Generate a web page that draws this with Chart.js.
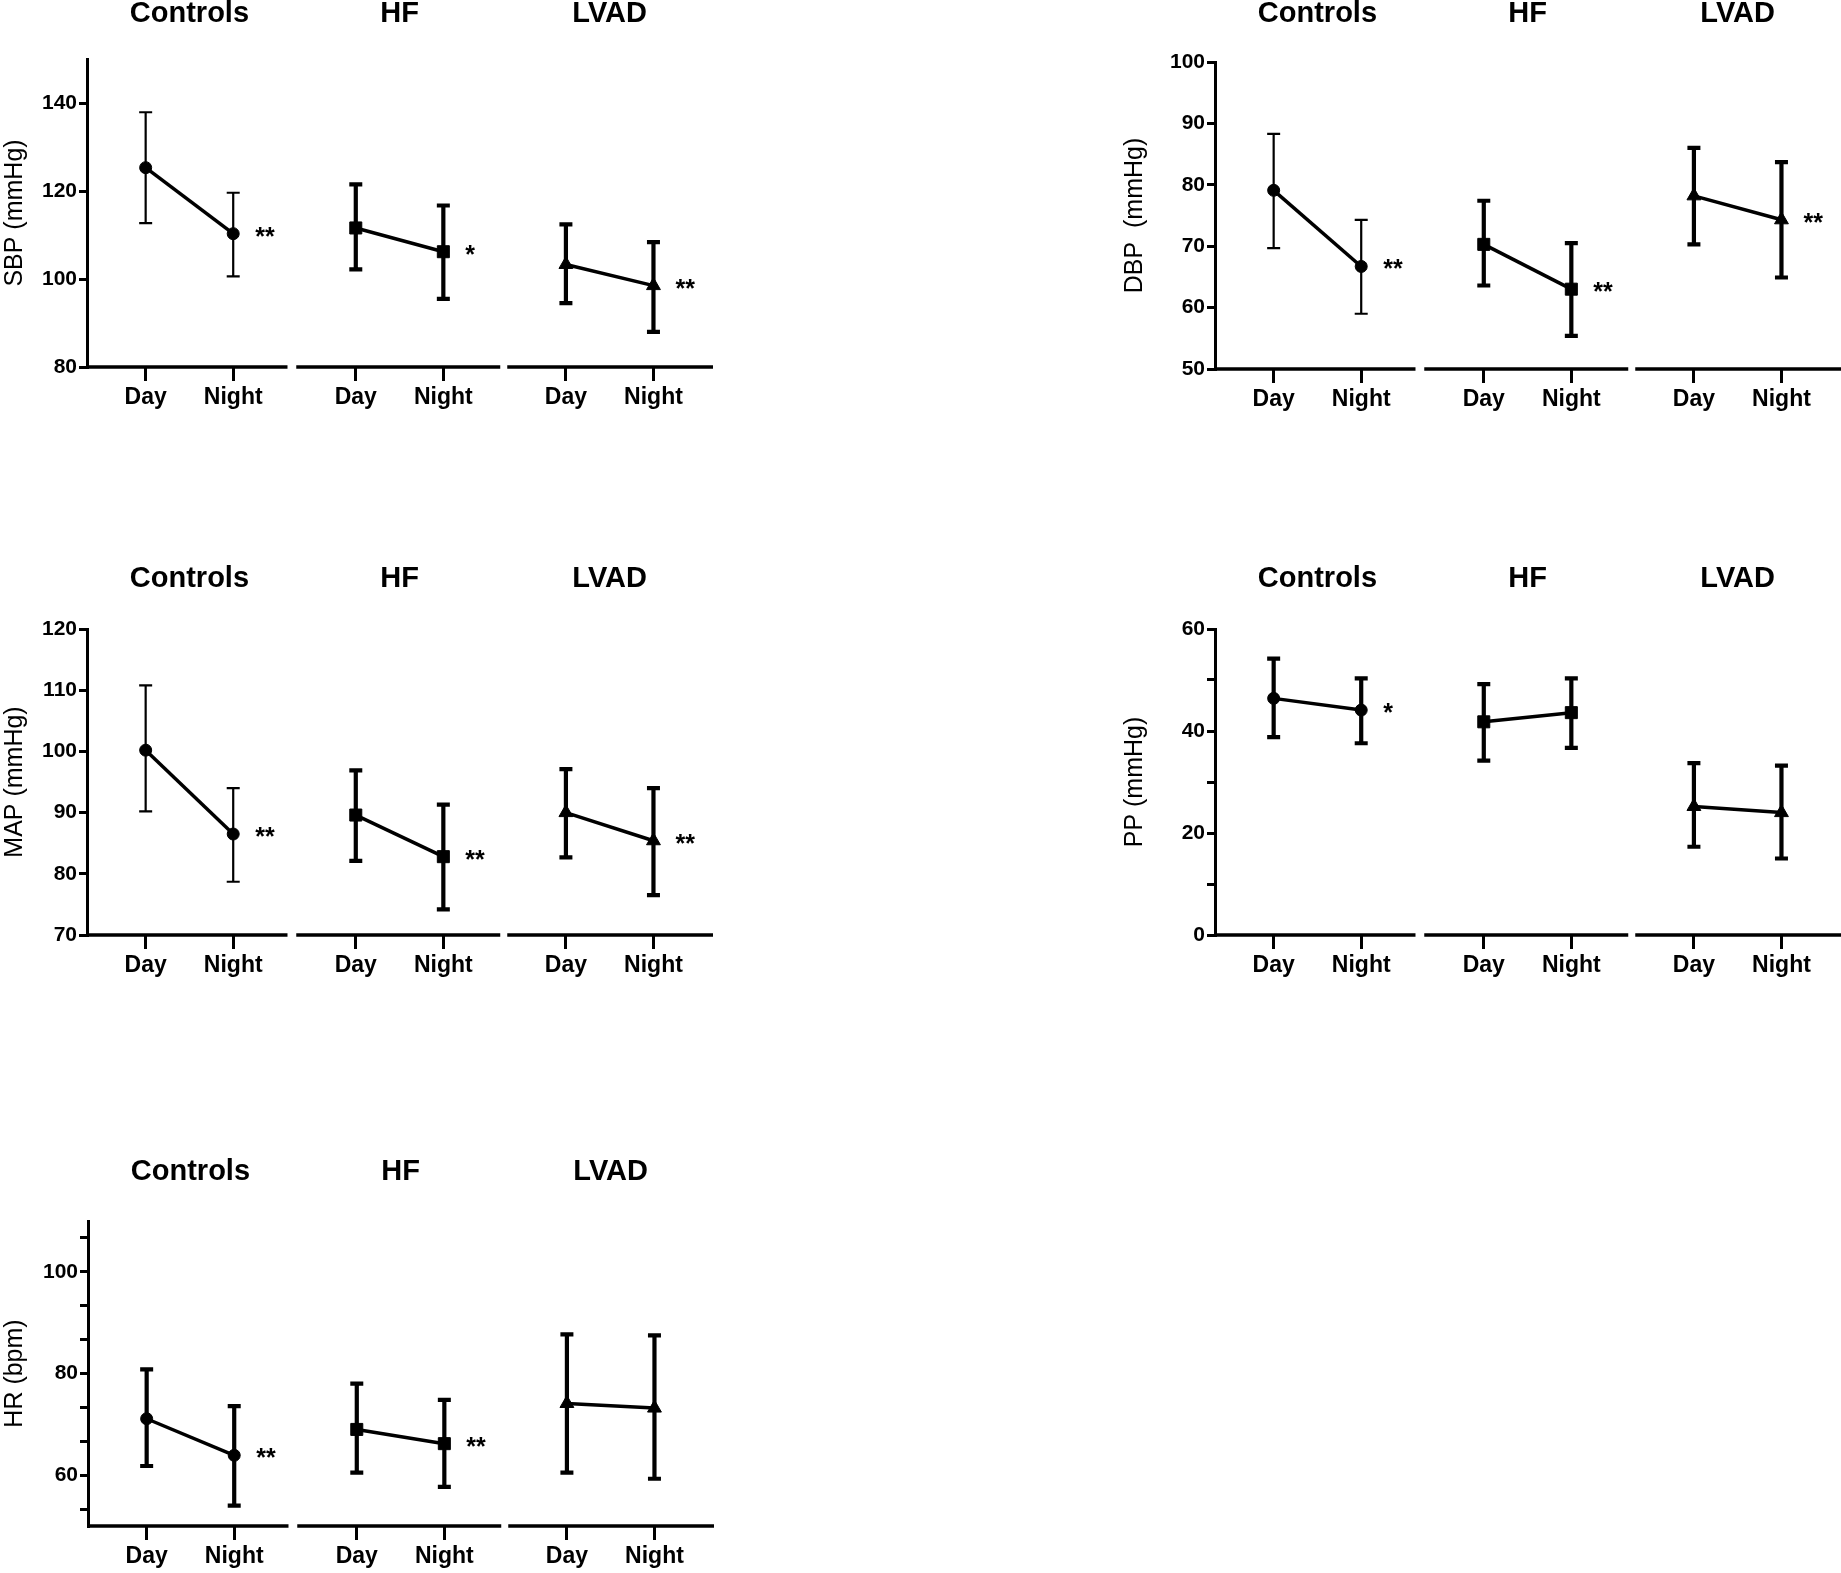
<!DOCTYPE html>
<html lang="en">
<head>
<meta charset="UTF-8">
<title>Day / Night haemodynamics</title>
<style>
    body {
        margin: 0;
        background: #ffffff;
        width: 1841px;
        height: 1573px;
        position: relative;
        overflow: hidden;
    }
    canvas {
        position: absolute;
    }
</style>
<script src="https://cdn.jsdelivr.net/npm/chart.js"></script>
</head>
<body>
<canvas id="sbp"></canvas>
<canvas id="dbp"></canvas>
<canvas id="map"></canvas>
<canvas id="pp"></canvas>
<canvas id="hr"></canvas>

<script>
// groups and periods (order of every series below: Controls Day, Controls Night, HF Day, HF Night, LVAD Day, LVAD Night)
const groups = ['Controls', 'HF', 'LVAD'];
const periods = ['Day', 'Night'];

// systolic BP
const sbpMean = [125.3, 110.3, 111.6, 106.2, 103.3, 98.5];
const sbpLow  = [112.7, 100.6, 102.2, 95.5, 94.5, 88.0];
const sbpHigh = [137.9, 119.6, 121.5, 116.7, 112.4, 108.4];
const sbpStars = ['**', '*', '**'];
const sbpTicks = [80, 100, 120, 140];
const sbpLabels = [80, 100, 120, 140];

// diastolic BP
const dbpMean = [79.1, 66.7, 70.3, 63.0, 78.2, 74.3];
const dbpLow  = [69.7, 59.0, 63.6, 55.4, 70.3, 64.9];
const dbpHigh = [88.3, 74.3, 77.4, 70.5, 86.0, 83.7];
const dbpStars = ['**', '**', '**'];
const dbpTicks = [50, 60, 70, 80, 90, 100];
const dbpLabels = [50, 60, 70, 80, 90, 100];

// mean arterial pressure
const mapMean = [100.2, 86.5, 89.6, 82.8, 90.0, 85.4];
const mapLow  = [90.2, 78.7, 82.1, 74.2, 82.7, 76.5];
const mapHigh = [110.8, 94.0, 96.9, 91.3, 97.1, 94.0];
const mapStars = ['**', '**', '**'];
const mapTicks = [70, 80, 90, 100, 110, 120];
const mapLabels = [70, 80, 90, 100, 110, 120];

// pulse pressure
const ppMean = [46.4, 44.1, 41.8, 43.6, 25.2, 24.0];
const ppLow  = [38.8, 37.6, 34.2, 36.7, 17.3, 15.0];
const ppHigh = [54.2, 50.3, 49.2, 50.3, 33.7, 33.2];
const ppStars = ['*', '', ''];
const ppTicks = [0, 10, 20, 30, 40, 50, 60];
const ppLabels = [0, 20, 40, 60];

// heart rate
const hrMean = [71.1, 63.9, 69.0, 66.2, 74.1, 73.2];
const hrLow  = [61.8, 54.0, 60.5, 57.7, 60.5, 59.3];
const hrHigh = [80.8, 73.6, 78.0, 74.8, 87.7, 87.5];
const hrStars = ['**', '**', ''];
const hrTicks = [53.33, 60, 66.67, 73.33, 80, 86.67, 93.33, 100, 106.67];
const hrLabels = [60, 80, 100];

// x layout: Day/Night one unit apart, groups 2.4 units apart
const GROUP_STEP = 2.4;
const X_MIN = 0.33, X_MAX = 7.48;
const segments = [[0.33, 2.62], [2.72, 5.05], [5.13, 7.48]];
function xOf(g, p) { return 1 + g * GROUP_STEP + p; }
const xTicks = [];
groups.forEach((g, gi) => periods.forEach((p, pi) => xTicks.push(xOf(gi, pi))));

const markers = ['circle', 'rect', 'triangle'];
const markerRadius = [6, 8.5, 8];
const FONT = "'Liberation Sans', Arial, sans-serif";

function decor(cfg) {
    return {
        id: 'decor_' + cfg.id,
        beforeDatasetsDraw(chart) {
            const ctx = chart.ctx, xs = chart.scales.x, ys = chart.scales.y;
            ctx.save();
            ctx.strokeStyle = '#000';
            ctx.lineCap = 'butt';
            for (let i = 0; i < 6; i++) {
                const gi = Math.floor(i / 2), pi = i % 2;
                const x = xs.getPixelForValue(xOf(gi, pi));
                const yl = ys.getPixelForValue(cfg.low[i]);
                const yh = ys.getPixelForValue(cfg.high[i]);
                ctx.lineWidth = (gi === 0 && cfg.thinControls) ? 2.2 : 4.2;
                ctx.beginPath();
                ctx.moveTo(x, yl); ctx.lineTo(x, yh);
                ctx.moveTo(x - 6.5, yl); ctx.lineTo(x + 6.5, yl);
                ctx.moveTo(x - 6.5, yh); ctx.lineTo(x + 6.5, yh);
                ctx.stroke();
            }
            ctx.restore();
        },
        afterDraw(chart) {
            const ctx = chart.ctx, xs = chart.scales.x, ys = chart.scales.y;
            const area = chart.chartArea;
            ctx.save();
            // broken x axis
            ctx.strokeStyle = '#000';
            ctx.lineWidth = 3.5;
            segments.forEach(s => {
                ctx.beginPath();
                ctx.moveTo(xs.getPixelForValue(s[0]), area.bottom);
                ctx.lineTo(xs.getPixelForValue(s[1]), area.bottom);
                ctx.stroke();
            });
            // group headings
            ctx.fillStyle = '#000';
            ctx.textAlign = 'center';
            ctx.textBaseline = 'middle';
            ctx.font = 'bold 29px ' + FONT;
            groups.forEach((g, gi) => {
                const xc = (xs.getPixelForValue(xOf(gi, 0)) + xs.getPixelForValue(xOf(gi, 1))) / 2;
                ctx.fillText(g, xc, cfg.titleY);
            });
            // significance stars
            ctx.textAlign = 'left';
            ctx.textBaseline = 'alphabetic';
            ctx.font = 'bold 25px ' + FONT;
            cfg.stars.forEach((s, gi) => {
                if (!s) return;
                const x = xs.getPixelForValue(xOf(gi, 1)) + 22;
                const y = ys.getPixelForValue(cfg.mean[gi * 2 + 1]) + 11;
                ctx.fillText(s, x, y);
            });
            ctx.restore();
        }
    };
}

function makePanel(cfg) {
    const canvas = document.getElementById(cfg.id);
    canvas.width = cfg.w;
    canvas.height = cfg.h;
    canvas.style.left = cfg.left + 'px';
    canvas.style.top = cfg.top + 'px';
    const X_AXIS_H = 46;

    const datasets = groups.map((g, gi) => ({
        label: g,
        data: periods.map((p, pi) => ({ x: xOf(gi, pi), y: cfg.mean[gi * 2 + pi] })),
        showLine: true,
        borderColor: '#000',
        backgroundColor: '#000',
        borderWidth: 3.5,
        pointStyle: markers[gi],
        pointRadius: markerRadius[gi],
        pointBorderWidth: 1,
        pointBorderColor: '#000',
        pointBackgroundColor: '#000'
    }));

    new Chart(canvas, {
        type: 'scatter',
        data: { datasets: datasets },
        options: {
            responsive: false,
            animation: false,
            clip: false,
            layout: {
                padding: {
                    left: 0,
                    top: cfg.plotTop,
                    right: cfg.w - cfg.plotRight,
                    bottom: cfg.h - cfg.plotBottom - X_AXIS_H
                }
            },
            plugins: {
                legend: { display: false },
                tooltip: { enabled: false }
            },
            scales: {
                x: {
                    type: 'linear',
                    min: X_MIN,
                    max: X_MAX,
                    afterBuildTicks: s => { s.ticks = xTicks.map(v => ({ value: v })); },
                    afterFit: s => { s.height = X_AXIS_H; },
                    ticks: {
                        autoSkip: false,
                        maxRotation: 0,
                        padding: 3,
                        color: '#000',
                        font: { family: FONT, size: 23, weight: 'bold' },
                        callback: (v, i) => periods[i % 2]
                    },
                    grid: { drawOnChartArea: false, drawTicks: true, tickLength: 14, lineWidth: 3, color: '#000' },
                    border: { display: false }
                },
                y: {
                    min: cfg.min,
                    max: cfg.max,
                    afterBuildTicks: s => { s.ticks = cfg.ticks.map(v => ({ value: v })); },
                    afterFit: s => { s.width = cfg.plotLeft; },
                    ticks: {
                        autoSkip: false,
                        padding: 2,
                        color: '#000',
                        font: { family: FONT, size: 21, weight: 'bold' },
                        callback: v => cfg.labels.includes(v) ? String(v) : ''
                    },
                    grid: { drawOnChartArea: false, drawTicks: true, tickLength: 8, lineWidth: 3, color: '#000' },
                    border: { display: true, color: '#000', width: 3 },
                    title: {
                        display: true,
                        text: cfg.yTitle,
                        color: '#000',
                        padding: { top: 0, bottom: 0 },
                        font: { family: FONT, size: 25 }
                    }
                }
            }
        },
        plugins: [decor(cfg)]
    });
}

makePanel({ id: 'sbp', left: 0, top: 0, w: 740, h: 420, plotLeft: 87, plotRight: 713, plotTop: 59, plotBottom: 367, titleY: 14,
    min: 80, max: 150, ticks: sbpTicks, labels: sbpLabels, yTitle: 'SBP (mmHg)',
    mean: sbpMean, low: sbpLow, high: sbpHigh, stars: sbpStars, thinControls: true });

makePanel({ id: 'dbp', left: 1120, top: 0, w: 760, h: 420, plotLeft: 95, plotRight: 721, plotTop: 62, plotBottom: 369, titleY: 14,
    min: 50, max: 100, ticks: dbpTicks, labels: dbpLabels, yTitle: 'DBP  (mmHg)',
    mean: dbpMean, low: dbpLow, high: dbpHigh, stars: dbpStars, thinControls: true });

makePanel({ id: 'map', left: 0, top: 560, w: 740, h: 420, plotLeft: 87, plotRight: 713, plotTop: 69, plotBottom: 375, titleY: 19,
    min: 70, max: 120, ticks: mapTicks, labels: mapLabels, yTitle: 'MAP (mmHg)',
    mean: mapMean, low: mapLow, high: mapHigh, stars: mapStars, thinControls: true });

makePanel({ id: 'pp', left: 1120, top: 560, w: 760, h: 420, plotLeft: 95, plotRight: 721, plotTop: 69, plotBottom: 375, titleY: 19,
    min: 0, max: 60, ticks: ppTicks, labels: ppLabels, yTitle: 'PP (mmHg)',
    mean: ppMean, low: ppLow, high: ppHigh, stars: ppStars, thinControls: false });

makePanel({ id: 'hr', left: 0, top: 1150, w: 740, h: 423, plotLeft: 88, plotRight: 714, plotTop: 71, plotBottom: 376, titleY: 22,
    min: 50, max: 110, ticks: hrTicks, labels: hrLabels, yTitle: 'HR (bpm)',
    mean: hrMean, low: hrLow, high: hrHigh, stars: hrStars, thinControls: false });
</script>
</body>
</html>
